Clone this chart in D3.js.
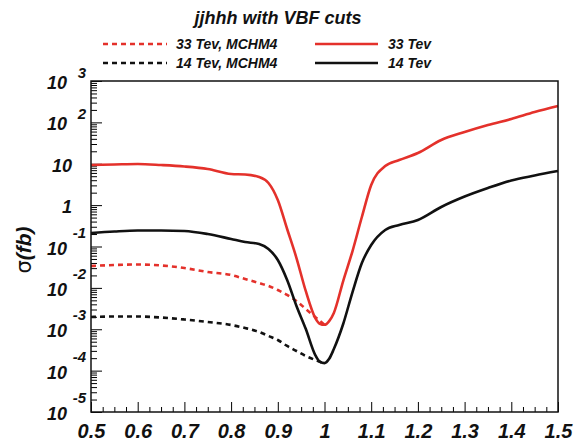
<!DOCTYPE html>
<html>
<head>
<meta charset="utf-8">
<script src="https://cdn.jsdelivr.net/npm/d3@7"></script>
<style>
  body { margin: 0; background: #fff; }
  text { font-family: "Liberation Sans", Arial, Helvetica, sans-serif; font-weight: bold; font-style: italic; fill: #111; }
</style>
</head>
<body>
<svg id="chart" width="577" height="441"></svg>
<script>
// Mass-ratio points sampled along the full curves (x axis)
const xFull = [0.50, 0.55, 0.60, 0.65, 0.70, 0.75, 0.80, 0.83, 0.86, 0.88, 0.90, 0.92, 0.94, 0.96, 0.98, 0.99,
               1.00, 1.01, 1.02, 1.04, 1.06, 1.08, 1.10, 1.13, 1.16, 1.20, 1.25, 1.30, 1.35, 1.40, 1.45, 1.50];
// sigma (fb), 33 TeV
const sigma33 = [9.33, 9.6, 9.86, 9.33, 8.6, 7.46, 5.65, 5.5, 4.79, 3.43, 1.33, 0.265, 0.0527, 0.0083, 0.00189, 0.00136,
                 0.00128, 0.00157, 0.00248, 0.01466, 0.0778, 0.516, 3.06, 8.83, 12.3, 18.2, 37.5, 58.5, 86.5, 121, 178, 249];
// sigma (fb), 14 TeV
const sigma14 = [0.212, 0.231, 0.244, 0.244, 0.237, 0.200, 0.152, 0.1285, 0.1148, 0.0871, 0.0472, 0.0155, 0.00365, 0.00101, 0.000241, 0.000164,
                 0.000152, 0.000193, 0.000333, 0.00134, 0.00794, 0.0399, 0.1086, 0.251, 0.331, 0.437, 0.902, 1.61, 2.59, 3.94, 5.20, 6.68];
// MCHM4 curves stop at x = 1
const xMCHM4 = [0.50, 0.55, 0.60, 0.65, 0.70, 0.75, 0.80, 0.83, 0.86, 0.88, 0.90, 0.92, 0.94, 0.96, 0.98, 1.00];
const sigma33MCHM4 = [0.0338, 0.0357, 0.0367, 0.0348, 0.0302, 0.0242, 0.0205, 0.0164, 0.0131, 0.0111, 0.0089, 0.00673, 0.00482, 0.00308, 0.00198, 0.00128];
const sigma14MCHM4 = [0.00198, 0.00203, 0.00203, 0.00192, 0.00172, 0.0015, 0.00127, 0.00107, 0.00086, 0.000687, 0.00055, 0.000394, 0.000298, 0.000225, 0.000181, 0.000148];

const xMajorTicks = [0.5, 0.6, 0.7, 0.8, 0.9, 1.0, 1.1, 1.2, 1.3, 1.4, 1.5];
const decadeExponents = [-5, -4, -3, -2, -1, 0, 1, 2, 3];

const titleText = "jjhhh with VBF cuts";
const legendItems = [
  { label: "33 Tev, MCHM4", color: "#e4312b", dashed: true,  col: 0, row: 0 },
  { label: "33 Tev",        color: "#e4312b", dashed: false, col: 1, row: 0 },
  { label: "14 Tev, MCHM4", color: "#111111", dashed: true,  col: 0, row: 1 },
  { label: "14 Tev",        color: "#111111", dashed: false, col: 1, row: 1 }
];

const RED = "#e4312b", BLACK = "#111111";
const svg = d3.select("#chart");
const plot = { left: 91, right: 558, top: 81, bottom: 412 };

const x = d3.scaleLinear().domain([0.5, 1.5]).range([plot.left, plot.right]);
const y = d3.scaleLog().domain([1e-5, 1e3]).range([plot.bottom, plot.top]);

// title
svg.append("text").attr("x", 278).attr("y", 24).attr("text-anchor", "middle")
  .style("font-size", "18px").text(titleText);

// legend
const legendCols = [{ lx0: 103, lx1: 167, tx: 176 }, { lx0: 315, lx1: 378, tx: 388 }];
const legendRows = [44, 63];
legendItems.forEach(it => {
  const c = legendCols[it.col], ry = legendRows[it.row];
  svg.append("line").attr("x1", c.lx0).attr("x2", c.lx1).attr("y1", ry).attr("y2", ry)
    .attr("stroke", it.color).attr("stroke-width", 2.6)
    .attr("stroke-dasharray", it.dashed ? "5,4" : null);
  svg.append("text").attr("x", c.tx).attr("y", ry + 5).style("font-size", "14px").text(it.label);
});

// x axis ticks (pointing into the frame)
const xMinor = d3.range(0, 41).map(i => 0.5 + i * 0.025).filter(v => Math.abs(v * 10 - Math.round(v * 10)) > 1e-6);
svg.append("g").attr("transform", `translate(0,${plot.bottom})`)
  .call(d3.axisBottom(x).tickValues(xMinor).tickSizeInner(-5).tickSizeOuter(0).tickFormat(""))
  .call(g => g.select(".domain").remove());
const xAxis = svg.append("g").attr("transform", `translate(0,${plot.bottom})`)
  .call(d3.axisBottom(x).tickValues(xMajorTicks).tickSizeInner(-10).tickSizeOuter(0)
    .tickPadding(11).tickFormat(d3.format("~g")));
xAxis.select(".domain").remove();
xAxis.selectAll("text").attr("y", 25.5).attr("dy", null)
  .style("font-size", "20px").style("font-family", "Liberation Sans, Arial, sans-serif")
  .style("font-weight", "bold").style("font-style", "italic").attr("fill", "#111");

// y axis ticks
const yMinor = [];
decadeExponents.slice(0, -1).forEach(e => { for (let k = 2; k <= 9; k++) yMinor.push(k * Math.pow(10, e)); });
svg.append("g").attr("transform", `translate(${plot.left},0)`)
  .call(d3.axisLeft(y).tickValues(yMinor).tickSizeInner(-6).tickSizeOuter(0).tickFormat(""))
  .call(g => g.select(".domain").remove());
svg.append("g").attr("transform", `translate(${plot.left},0)`)
  .call(d3.axisLeft(y).tickValues(decadeExponents.map(e => Math.pow(10, e))).tickSizeInner(-11).tickSizeOuter(0).tickFormat(""))
  .call(g => g.select(".domain").remove());

// y tick labels: 1 and 10 plain, others as 10 with an exponent
decadeExponents.forEach(e => {
  const ty = y(Math.pow(10, e));
  if (e === 0 || e === 1) {
    svg.append("text").attr("x", 72).attr("y", ty + 8).attr("text-anchor", "end")
      .style("font-size", "18px").text(e === 0 ? "1" : "10");
  } else {
    svg.append("text").attr("x", 67).attr("y", ty + 8).attr("text-anchor", "end")
      .style("font-size", "18px").text("10");
    svg.append("text").attr("x", 86).attr("y", e > 0 ? ty - 3 : ty - 9).attr("text-anchor", "end")
      .style("font-size", "15px").text(String(e));
  }
});

// y axis title
const yt = svg.append("text").attr("transform", "translate(31,250) rotate(-90)")
  .attr("text-anchor", "middle").style("font-size", "21px");
yt.append("tspan").style("font-style", "normal").style("font-weight", "normal")
  .style("font-family", "DejaVu Sans, sans-serif").text("σ");
yt.append("tspan").text("(fb)");

// curves
const line = d3.line().x(d => x(d[0])).y(d => y(d[1])).curve(d3.curveMonotoneX);
const series = [
  { xs: xMCHM4, ys: sigma33MCHM4, color: RED, dashed: true },
  { xs: xMCHM4, ys: sigma14MCHM4, color: BLACK, dashed: true },
  { xs: xFull, ys: sigma33, color: RED, dashed: false },
  { xs: xFull, ys: sigma14, color: BLACK, dashed: false }
];
series.forEach(s => {
  svg.append("path").datum(s.xs.map((v, i) => [v, s.ys[i]]))
    .attr("d", line).attr("fill", "none").attr("stroke", s.color)
    .attr("stroke-width", 2.6).attr("stroke-linejoin", "round")
    .attr("stroke-dasharray", s.dashed ? "5,4" : null);
});

// frame
svg.append("rect").attr("x", plot.left).attr("y", plot.top)
  .attr("width", plot.right - plot.left).attr("height", plot.bottom - plot.top)
  .attr("fill", "none").attr("stroke", "#111").attr("stroke-width", 1.5);
</script>
</body>
</html>
